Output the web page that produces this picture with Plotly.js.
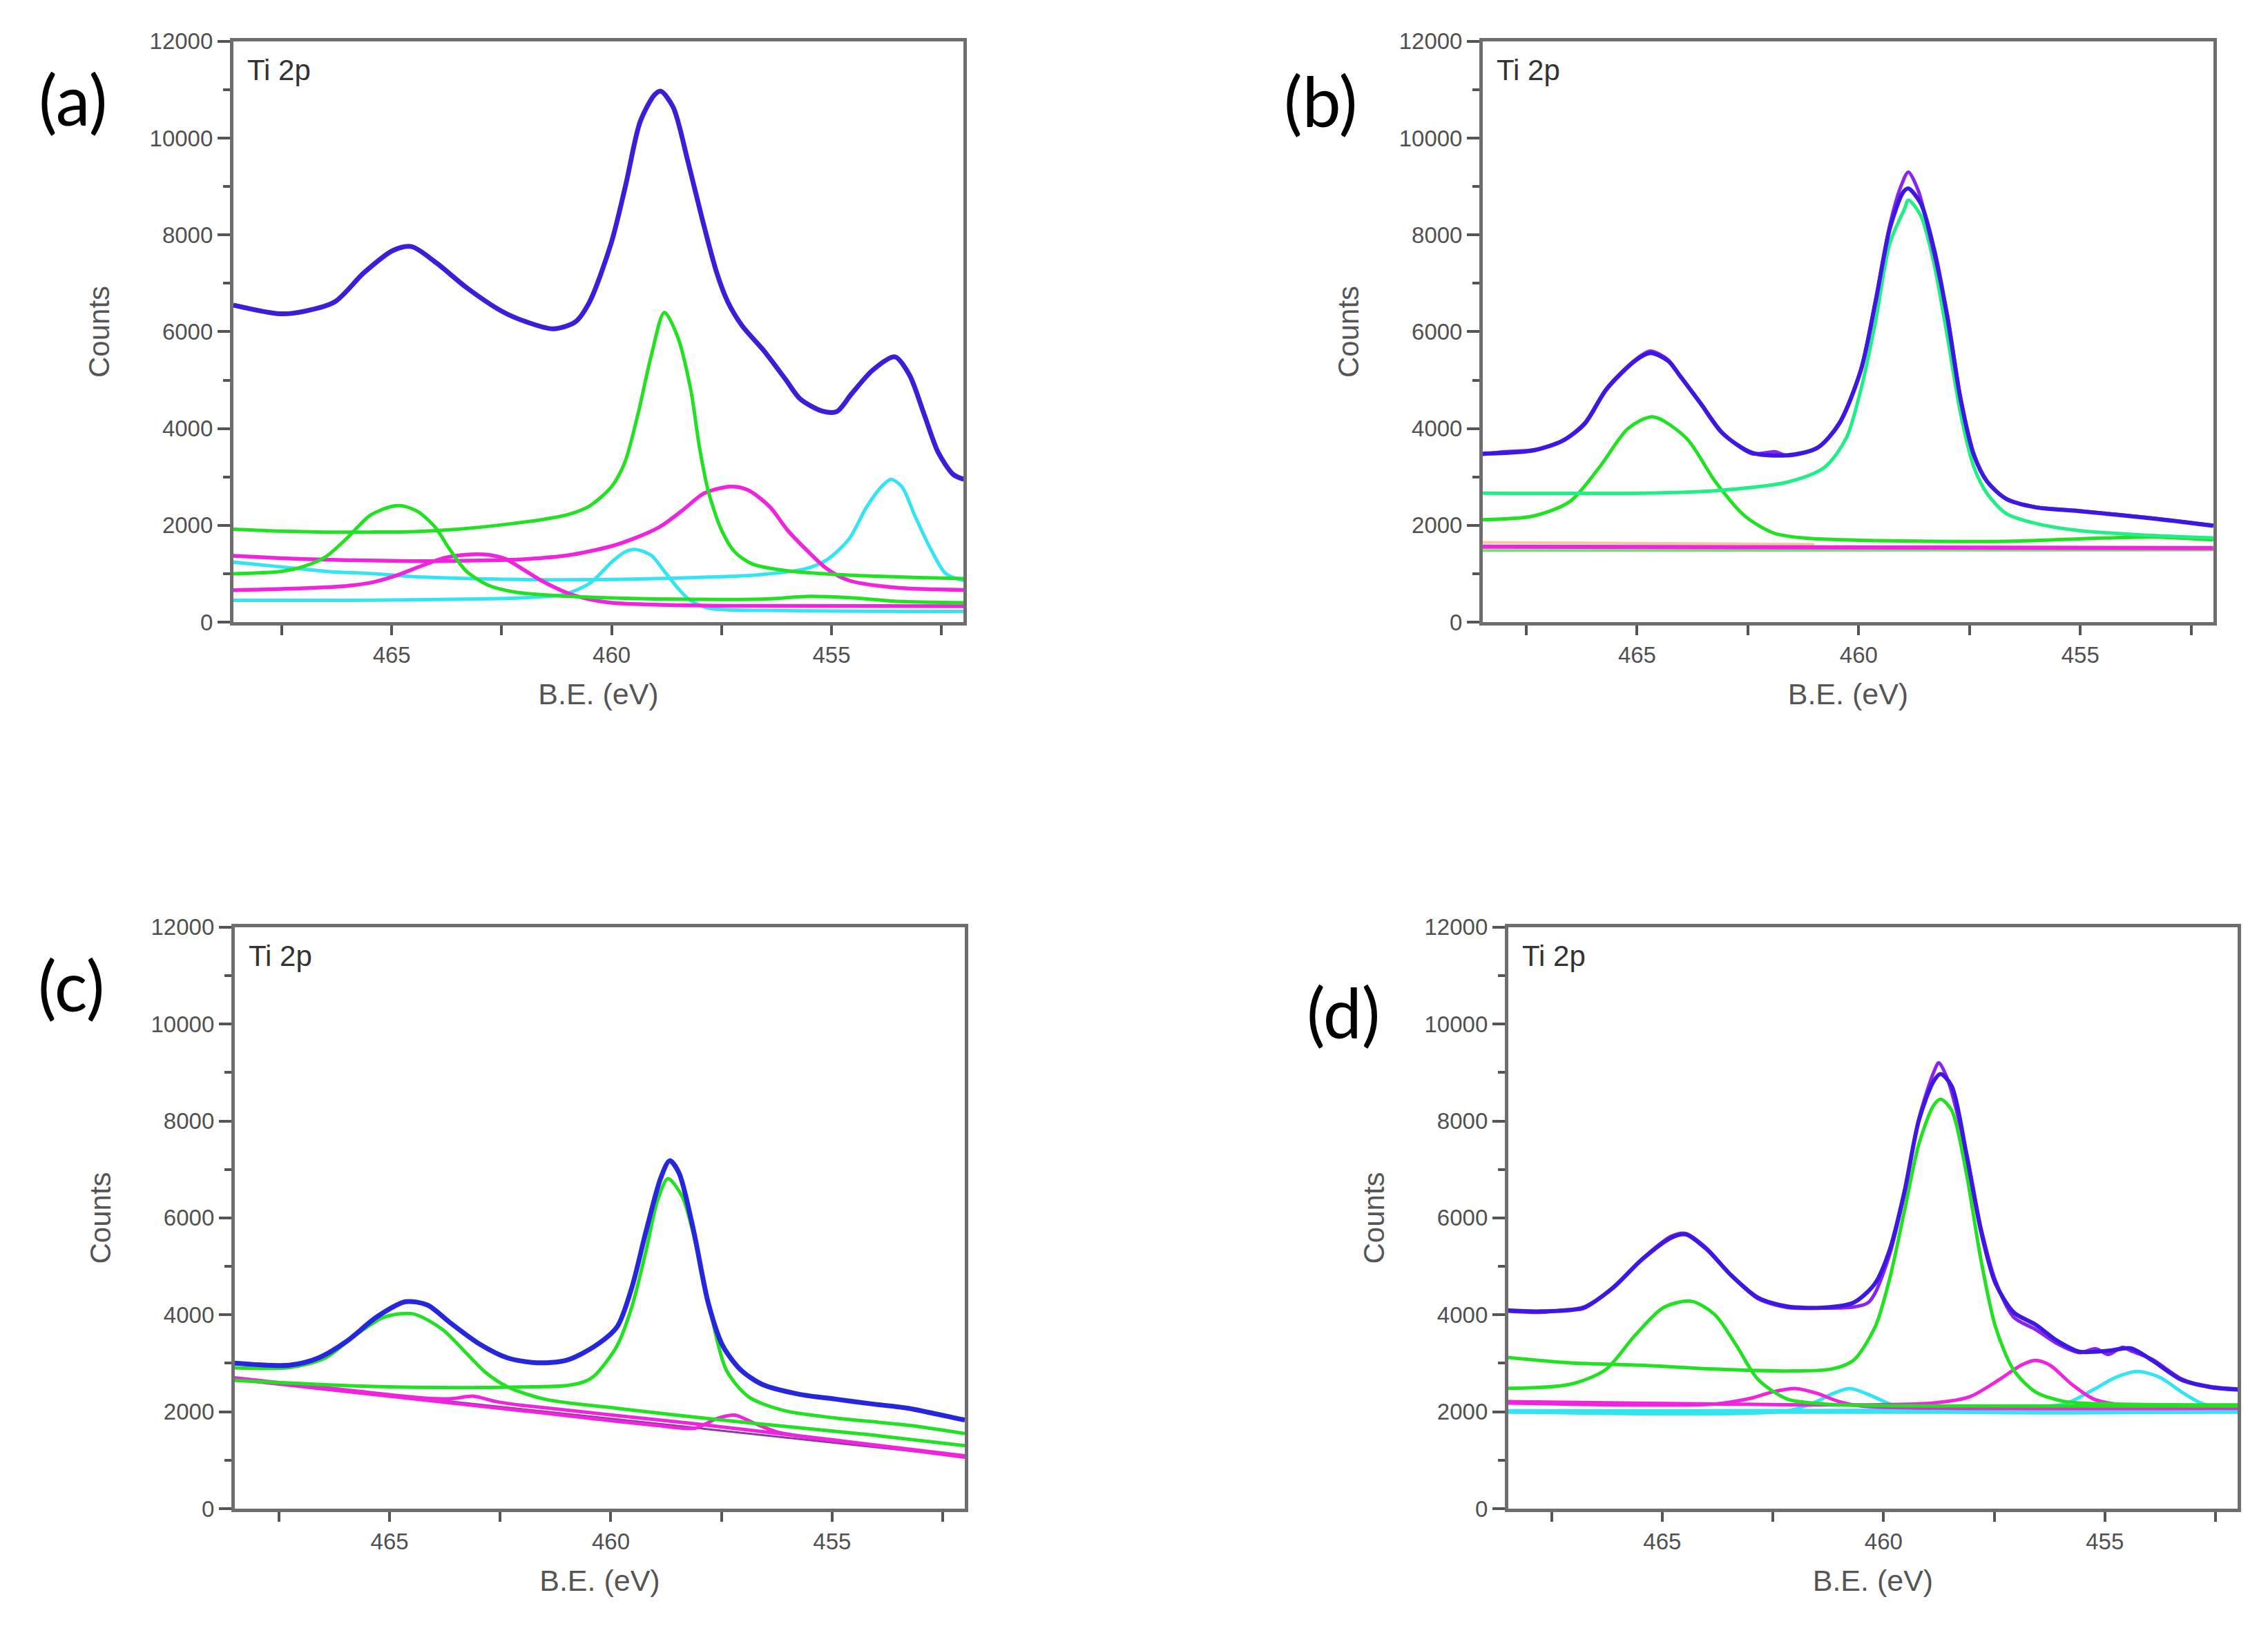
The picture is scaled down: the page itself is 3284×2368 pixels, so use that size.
<!DOCTYPE html>
<html>
<head>
<meta charset="utf-8">
<script src="https://cdn.plot.ly/plotly-3.0.1.min.js"></script>
<style>html,body{margin:0;padding:0;background:#fff;}#chart{width:3284px;height:2368px;}</style>
</head>
<body>
<div id="chart"></div>
<script>
// ---------- Panel (a) ----------
const a_env_x = [468.6,467.53,466.95,466.29,465.63,464.97,464.55,463.98,463.31,462.49,461.99,461.33,460.83,460.5,460.01,459.68,459.35,459.02,458.88,458.6,458.27,457.94,457.61,457.36,457.03,456.54,456.04,455.71,455.21,454.88,454.55,454.06,453.56,453.23,452.9,452.57,452.23,451.99];
const a_env_y = [6550,6370,6430,6620,7220,7680,7760,7420,6920,6420,6220,6060,6200,6620,7830,9030,10340,10900,10970,10640,9540,8330,7220,6620,6120,5610,5010,4610,4360,4350,4710,5210,5480,5110,4310,3500,3050,2950];
const a_grnA_x = [468.6,467.5,466.5,465.5,464.5,463.5,462.5,461.5,461.0,460.5,460.0,459.7,459.4,459.1,458.8,458.5,458.2,458.0,457.8,457.5,457.2,456.8,456.0,455.0,454.0,453.0,452.0];
const a_grnA_y = [1920,1880,1860,1860,1870,1920,2010,2130,2220,2400,2800,3300,4300,5500,6400,5900,4800,3600,2700,1900,1450,1200,1060,990,950,920,900];
const a_grnB_x = [468.6,467.5,467.0,466.5,466.0,465.5,465.0,464.75,464.4,464.0,463.7,463.3,462.8,462.2,461.5,460.0,458.0,456.5,455.5,454.5,453.5,452.0];
const a_grnB_y = [1000,1050,1150,1350,1750,2200,2390,2400,2280,1950,1530,1050,760,620,560,500,470,480,530,500,430,400];
const a_magA_x = [468.6,467.5,466.5,465.0,464.0,463.0,462.0,461.0,460.0,459.4,458.9,458.4,457.9,457.3,456.9,456.4,456.0,455.6,455.1,454.6,453.5,452.0];
const a_magA_y = [1370,1320,1290,1265,1260,1275,1300,1380,1570,1760,1970,2300,2660,2800,2730,2380,1900,1520,1100,860,710,665];
const a_magB_x = [468.6,467.0,466.0,465.4,464.9,464.3,463.8,463.2,462.8,462.4,462.1,461.6,461.0,460.5,460.0,459.0,457.0,452.0];
const a_magB_y = [660,700,750,830,960,1170,1330,1400,1390,1300,1140,860,600,470,400,360,335,330];
const a_cyaA_x = [468.6,467.5,466.5,465.4,464.3,462.1,460.0,457.8,456.7,455.6,455.1,454.6,454.2,453.85,453.65,453.4,453.1,452.75,452.4,452.0];
const a_cyaA_y = [1240,1140,1050,1000,930,880,880,930,975,1100,1290,1720,2380,2810,2950,2800,2190,1520,1000,860];
const a_cyaB_x = [468.6,466.0,463.0,462.1,461.1,460.5,460.0,459.7,459.45,459.1,458.8,458.5,458.24,457.8,456.0,452.0];
const a_cyaB_y = [450,450,480,500,570,800,1240,1450,1500,1380,1050,710,470,290,240,220];

// ---------- Panel (b) ----------
const b_env_x = [468.6,467.33,466.67,466.18,465.69,465.03,464.7,464.3,464.05,463.56,463.07,462.41,461.59,460.93,460.44,459.95,459.62,459.3,459.0,458.88,458.6,458.3,458.0,457.7,457.4,457.1,456.67,456.02,455.03,453.39,452.0];
const b_env_y = [3480,3550,3750,4100,4810,5410,5560,5400,5110,4510,3900,3500,3450,3600,4100,5210,6620,8130,8880,8960,8650,7700,6300,4600,3450,2900,2545,2374,2294,2143,1990];
const b_dat_x = [468.6,468.0,467.33,466.67,466.18,465.69,465.03,464.7,464.3,464.05,463.56,463.07,462.41,461.9,461.59,460.93,460.44,459.95,459.62,459.3,459.05,458.88,458.65,458.35,458.0,457.7,457.4,457.1,456.67,456.02,455.03,453.39,452.0];
const b_dat_y = [3450,3520,3560,3760,4120,4830,5430,5600,5420,5120,4520,3910,3480,3520,3440,3610,4120,5230,6650,8200,9000,9300,8900,7800,6350,4620,3470,2910,2550,2380,2300,2150,2000];
const b_mint_x = [468.6,464.87,463.23,461.59,460.77,460.28,459.95,459.62,459.3,458.97,458.88,458.6,458.3,458.0,457.7,457.4,457.1,456.67,456.02,455.03,453.39,452.0];
const b_mint_y = [2666,2666,2716,2897,3199,3803,4809,6217,7827,8531,8720,8400,7400,5900,4300,3200,2650,2243,2042,1891,1791,1740];
const b_grn_x = [468.6,467.33,466.51,465.85,465.2,464.64,463.89,463.23,462.57,461.92,461.26,459.95,456.67,455.03,453.39,452.0];
const b_grn_y = [2113,2193,2495,3199,4004,4240,3803,2897,2193,1841,1740,1690,1670,1720,1760,1700];
const b_mag_x = [468.6,460.0,452.0];
const b_mag_y = [1560,1550,1530];
const b_pale_x = [468.6,464.0,461.0];
const b_pale_y = [1650,1630,1610];
const b_lgrn_x = [468.6,460.0,452.0];
const b_lgrn_y = [1480,1485,1490];

// ---------- Panel (c) ----------
const c_env_x = [468.6,467.27,466.61,465.96,465.3,464.64,464.14,463.65,462.99,462.33,461.67,461.01,460.35,459.86,459.53,459.2,458.87,458.67,458.46,458.13,457.8,457.47,457.06,456.57,455.74,454.92,454.09,453.27,452.12,452.0];
const c_env_y = [3010,2960,3110,3460,3950,4270,4200,3850,3410,3110,3010,3060,3360,3750,4550,5740,6830,7180,6930,5740,4250,3360,2860,2560,2360,2260,2160,2070,1850,1830];
const c_grnA_x = [468.6,466.0,464.0,462.0,461.0,460.6,460.35,459.86,459.53,459.2,458.95,458.71,458.38,458.05,457.72,457.39,456.89,456.07,454.92,453.27,452.0];
const c_grnA_y = [2650,2540,2500,2510,2540,2620,2760,3360,4150,5340,6340,6810,6430,5340,3950,2860,2310,2020,1870,1720,1550];
const c_grnB_x = [468.6,467.27,466.45,465.8,465.13,464.47,463.81,463.32,462.83,462.33,461.5,459.86,457.4,455.76,454.1,452.0];
const c_grnB_y = [2910,2910,3110,3560,3950,4020,3700,3260,2810,2510,2260,2070,1820,1670,1520,1300];
const c_magA_x = [468.6,466.0,464.2,463.6,463.1,462.6,462.0,458.0,455.0,452.0];
const c_magA_y = [2710,2450,2280,2270,2320,2210,2130,1740,1420,1090];
const c_magB_x = [468.6,462.0,459.0,458.1,457.6,457.2,456.8,456.2,454.0,452.0];
const c_magB_y = [2680,2020,1720,1660,1860,1930,1780,1570,1300,1060];
const c_bg_x = [468.6,452.0];
const c_bg_y = [2700,1070];

// ---------- Panel (d) ----------
const d_env_x = [468.6,467.77,466.78,466.12,465.46,464.8,464.47,463.98,463.48,462.83,462.17,461.34,460.68,460.19,459.86,459.53,459.2,458.87,458.71,458.46,458.13,457.8,457.47,457.06,456.57,456.07,455.58,454.92,454.42,453.93,453.27,452.61,451.99];
const d_env_y = [4100,4070,4150,4550,5140,5590,5660,5340,4850,4350,4170,4150,4250,4650,5340,6530,8020,8820,8970,8720,7330,5740,4650,4050,3800,3460,3240,3260,3310,3060,2660,2510,2460];
const d_dat_x = [468.6,467.77,467.2,466.78,466.12,465.46,464.8,464.47,463.98,463.48,462.83,462.17,461.34,460.68,460.35,460.19,459.86,459.53,459.2,458.87,458.75,458.55,458.13,457.8,457.47,457.06,456.57,456.07,455.58,455.2,454.92,454.6,454.42,453.93,453.27,452.61,451.99];
const d_dat_y = [4080,4050,4100,4130,4560,5150,5620,5680,5360,4850,4330,4150,4140,4160,4250,4450,5250,6500,8050,9000,9200,8850,7350,5800,4700,3950,3700,3400,3220,3300,3180,3330,3260,3080,2680,2500,2450];
const d_grnA_x = [468.6,467.11,465.46,463.81,462.17,461.18,460.68,460.19,459.86,459.53,459.2,458.87,458.71,458.46,458.13,457.8,457.47,457.06,456.57,455.91,454.75,451.99];
const d_grnA_y = [3130,3010,2960,2880,2840,2880,3060,3750,4750,6140,7530,8320,8450,8220,6930,5140,3750,2860,2410,2210,2160,2140];
const d_grnB_x = [468.6,467.11,466.29,465.63,464.97,464.34,463.81,463.32,462.83,462.17,461.34,458.87,451.99];
const d_grnB_y = [2480,2560,2860,3560,4150,4280,4000,3360,2660,2260,2160,2120,2120];
const d_magA_x = [468.6,463.81,460.52,458.87,458.05,457.39,456.89,456.57,456.24,455.74,455.25,454.59,451.99];
const d_magA_y = [2210,2160,2140,2180,2310,2660,2960,3060,2960,2560,2260,2140,2120];
const d_magB_x = [468.6,463.81,462.99,462.5,462.0,461.51,461.01,460.52,451.99];
const d_magB_y = [2180,2160,2280,2410,2480,2380,2210,2120,2070];
const d_cyaA_x = [468.6,457.22,455.91,455.25,454.75,454.26,453.76,453.27,452.78,451.99];
const d_cyaA_y = [2020,2070,2160,2460,2710,2830,2710,2410,2160,2070];
const d_cyaB_x = [468.6,462.17,461.51,461.18,460.77,460.35,459.86,459.37,451.99];
const d_cyaB_y = [2000,2020,2210,2360,2480,2360,2160,2040,2000];
const d_base_x = [468.6,451.99];
const d_base_y = [1990,1990];

// ---------- Axis / labels ----------
const yTickText = ['0','2000','4000','6000','8000','10000','12000'];
const xTitle = 'B.E. (eV)';
const yTitle = 'Counts';
const panelTag = 'Ti 2p';
const panelLetters = ['(a)','(b)','(c)','(d)'];

const FONT = 'Liberation Sans, Arial, Helvetica, sans-serif';
const C = {
  blue:'#3a1ed8', blueC:'#2626dc', blueBD:'#3d18e0', purple:'#8a24f0',
  green:'#22e022', mint:'#22ee88', mag:'#f024dc', cyan:'#34e4f2',
  pale:'#f8c8a0', lgrn:'#70e070', bgc:'#8a3aa0'
};

function tr(xs, ys, color, width, ax, shape) {
  return {x: xs, y: ys, type:'scatter', mode:'lines',
    xaxis: ax === 1 ? 'x' : 'x'+ax, yaxis: ax === 1 ? 'y' : 'y'+ax,
    line:{color:color, width:width, shape: shape || 'spline', smoothing:0.8},
    hoverinfo:'skip', showlegend:false};
}

const data = [
  // (a)
  tr(a_cyaB_x,a_cyaB_y,C.cyan,5,1),
  tr(a_cyaA_x,a_cyaA_y,C.cyan,5,1),
  tr(a_magB_x,a_magB_y,C.mag,5.5,1),
  tr(a_magA_x,a_magA_y,C.mag,5.5,1),
  tr(a_grnB_x,a_grnB_y,C.green,5,1),
  tr(a_grnA_x,a_grnA_y,C.green,5,1),
  tr(a_env_x,a_env_y,C.blue,7,1),
  // (b)
  tr(b_lgrn_x,b_lgrn_y,C.lgrn,4,2,'linear'),
  tr(b_pale_x,b_pale_y,C.pale,4,2,'linear'),
  tr(b_mag_x,b_mag_y,C.mag,6,2,'linear'),
  tr(b_grn_x,b_grn_y,C.green,5,2),
  tr(b_mint_x,b_mint_y,C.mint,5,2),
  tr(b_dat_x,b_dat_y,C.purple,5,2),
  tr(b_env_x,b_env_y,C.blueBD,6,2),
  // (c)
  tr(c_bg_x,c_bg_y,C.bgc,3,3,'linear'),
  tr(c_magB_x,c_magB_y,C.mag,5,3),
  tr(c_magA_x,c_magA_y,C.mag,5,3),
  tr(c_grnB_x,c_grnB_y,C.green,5,3),
  tr(c_grnA_x,c_grnA_y,C.green,5,3),
  tr(c_env_x,c_env_y,C.blueC,7,3),
  // (d)
  tr(d_base_x,d_base_y,C.cyan,5,4,'linear'),
  tr(d_cyaB_x,d_cyaB_y,C.cyan,5,4),
  tr(d_cyaA_x,d_cyaA_y,C.cyan,5,4),
  tr(d_magB_x,d_magB_y,C.mag,5,4),
  tr(d_magA_x,d_magA_y,C.mag,5,4),
  tr(d_grnB_x,d_grnB_y,C.green,5,4),
  tr(d_grnA_x,d_grnA_y,C.green,5,4),
  tr(d_dat_x,d_dat_y,C.purple,5,4),
  tr(d_env_x,d_env_y,C.blueBD,6,4)
];

function xax(domain, range, anchor) {
  return {domain:domain, range:range, anchor:anchor,
    tick0:455, dtick:5, ticks:'outside', ticklen:14, tickwidth:4, tickcolor:'#555',
    minor:{dtick:2.5, ticks:'outside', ticklen:14, tickwidth:4, tickcolor:'#555', showgrid:false},
    showline:true, linecolor:'#6e6e6e', linewidth:5, mirror:true,
    showgrid:false, zeroline:false,
    tickfont:{family:FONT, size:33, color:'#505050'},
    title:{text:xTitle, font:{family:FONT, size:43, color:'#555'}, standoff:26}};
}
function yax(domain, anchor) {
  return {domain:domain, range:[0,12000], anchor:anchor,
    tickmode:'array', tickvals:[0,2000,4000,6000,8000,10000,12000], ticktext:yTickText,
    ticks:'outside', ticklen:18, tickwidth:4, tickcolor:'#555',
    minor:{dtick:1000, ticks:'outside', ticklen:10, tickwidth:4, tickcolor:'#555', showgrid:false},
    showline:true, linecolor:'#6e6e6e', linewidth:5, mirror:true,
    showgrid:false, zeroline:false,
    tickfont:{family:FONT, size:33, color:'#505050'},
    title:{text:yTitle, font:{family:FONT, size:42, color:'#555'}, standoff:46}};
}

const domTop = [0.6195, 0.9747], domBot = [0.0773, 0.4329];
const layout = {
  width:3284, height:2368, margin:{l:0,r:0,t:0,b:0},
  paper_bgcolor:'#fff', plot_bgcolor:'#fff', showlegend:false,
  xaxis: xax([0.1029,0.4248],[468.6,452.0],'y'),
  yaxis: yax(domTop,'x'),
  xaxis2: xax([0.6538,0.9759],[468.48,452.0],'y2'),
  yaxis2: yax(domTop,'x2'),
  xaxis3: xax([0.1035,0.4254],[468.5,452.0],'y3'),
  yaxis3: yax(domBot,'x3'),
  xaxis4: xax([0.6650,0.9866],[468.48,452.0],'y4'),
  yaxis4: yax(domBot,'x4'),
  annotations: []
};
['x','x2','x3','x4'].forEach(function(ax, i){
  const yr = i === 0 ? 'y' : 'y'+(i+1);
  layout.annotations.push({text:panelTag, xref:ax+' domain', yref:yr+' domain', x:0, y:1,
    xanchor:'left', yanchor:'top', xshift:18, yshift:-16, showarrow:false,
    font:{family:FONT, size:42, color:'#333'}});
});
const letterPos = [[0.032,0.9396],[0.5825,0.9388],[0.0314,0.3978],[0.5923,0.3813]];
panelLetters.forEach(function(t, i){
  layout.annotations.push({text:t, xref:'paper', yref:'paper', x:letterPos[i][0], y:letterPos[i][1],
    xanchor:'center', yanchor:'middle', showarrow:false,
    font:{family:'Lato, Open Sans, sans-serif', size:100, color:'#000'}});
});

Plotly.newPlot('chart', data, layout, {staticPlot:true, displayModeBar:false});
</script>
</body>
</html>
